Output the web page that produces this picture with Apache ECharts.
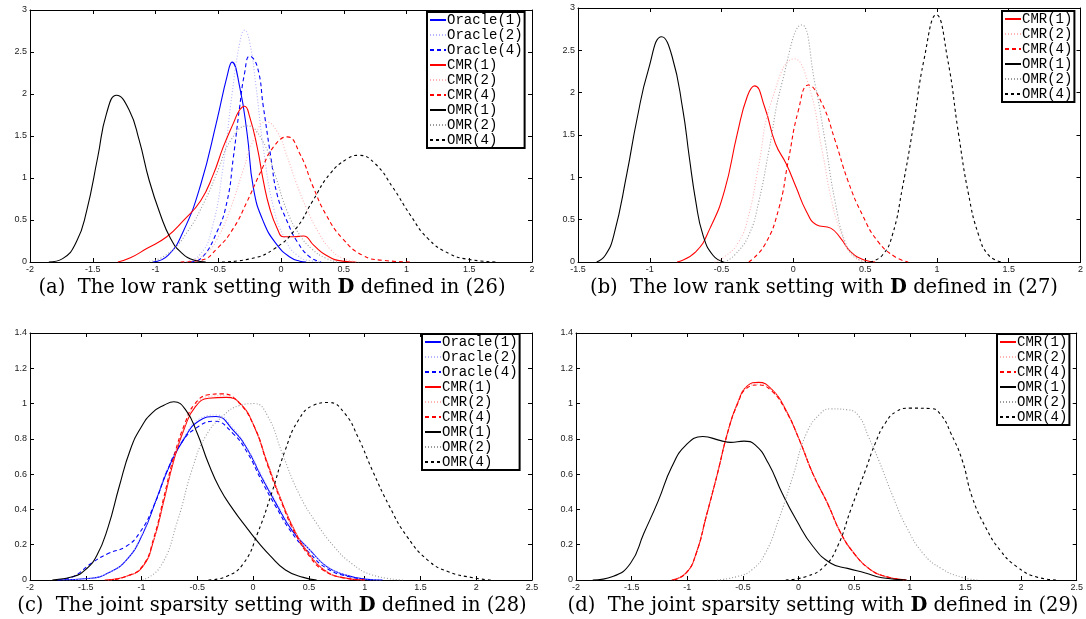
<!DOCTYPE html>
<html>
<head>
<meta charset="utf-8">
<script src="https://cdn.jsdelivr.net/npm/echarts@6/dist/echarts.min.js"></script>
<style>
  html, body { margin: 0; padding: 0; background: #fff; }
  #main { width: 1086px; height: 619px; }
</style>
</head>
<body>
<div id="main"></div>
<script>
// density curves, [x, y] pairs

// (a) low rank, D from (26)
var a_oracle1 = [[-1.02,0],[-0.9,0.08],[-0.78,0.36],[-0.64,0.92],[-0.51,1.69],[-0.43,2.21],[-0.39,2.38],[-0.33,2.09],[-0.27,1.53],[-0.22,0.88],[-0.14,0.48],[-0.03,0.2],[0.07,0.06],[0.15,0.01],[0.2,0]];
var a_oracle2 = [[-0.78,0],[-0.65,0.08],[-0.55,0.4],[-0.46,1.15],[-0.39,2.0],[-0.33,2.6],[-0.29,2.76],[-0.25,2.62],[-0.2,2.1],[-0.14,1.35],[-0.06,0.65],[0.03,0.28],[0.13,0.08],[0.25,0.01],[0.32,0]];
var a_oracle4 = [[-0.72,0],[-0.64,0.04],[-0.51,0.36],[-0.43,0.72],[-0.38,1.24],[-0.33,1.84],[-0.29,2.25],[-0.25,2.45],[-0.19,2.33],[-0.14,1.84],[-0.08,1.24],[-0.03,0.8],[0.05,0.48],[0.13,0.24],[0.23,0.06],[0.32,0]];
var a_cmr1 = [[-1.3,0],[-1.2,0.05],[-1.07,0.16],[-0.91,0.3],[-0.78,0.49],[-0.64,0.73],[-0.54,1.04],[-0.46,1.37],[-0.38,1.65],[-0.33,1.81],[-0.29,1.855],[-0.25,1.73],[-0.19,1.37],[-0.14,0.96],[-0.09,0.64],[-0.03,0.4],[0.02,0.3],[0.1,0.3],[0.18,0.31],[0.26,0.2],[0.36,0.08],[0.49,0.01],[0.6,0]];
var a_cmr2 = [[-0.75,0],[-0.6,0.1],[-0.5,0.3],[-0.4,0.65],[-0.3,1.1],[-0.22,1.45],[-0.12,1.67],[-0.03,1.55],[0.05,1.25],[0.12,0.95],[0.2,0.65],[0.3,0.35],[0.4,0.14],[0.5,0.04],[0.62,0]];
var a_cmr4 = [[-0.8,0],[-0.64,0.02],[-0.51,0.16],[-0.38,0.4],[-0.27,0.72],[-0.16,1.08],[-0.06,1.37],[0.05,1.49],[0.15,1.29],[0.26,0.88],[0.36,0.56],[0.49,0.28],[0.65,0.08],[0.81,0.02],[1.05,0]];
var a_omr1 = [[-1.85,0],[-1.74,0.04],[-1.63,0.24],[-1.55,0.6],[-1.46,1.25],[-1.39,1.77],[-1.31,1.985],[-1.21,1.81],[-1.13,1.45],[-1.05,0.97],[-0.96,0.56],[-0.88,0.28],[-0.8,0.12],[-0.69,0.02],[-0.6,0]];
var a_omr2 = [[-1.05,0],[-0.9,0.1],[-0.75,0.35],[-0.6,0.75],[-0.5,1.1],[-0.4,1.45],[-0.27,1.62],[-0.15,1.45],[-0.05,1.05],[0.05,0.6],[0.15,0.32],[0.25,0.15],[0.35,0.05],[0.45,0]];
var a_omr4 = [[-0.47,0],[-0.24,0.04],[-0.05,0.16],[0.12,0.4],[0.25,0.72],[0.39,1.05],[0.53,1.23],[0.62,1.27],[0.75,1.17],[0.89,0.89],[1.03,0.56],[1.17,0.28],[1.34,0.1],[1.5,0.03],[1.72,0]];

// (b) low rank, D from (27)
var b_cmr1 = [[-0.81,0],[-0.68,0.12],[-0.58,0.4],[-0.48,0.84],[-0.39,1.52],[-0.32,1.96],[-0.27,2.08],[-0.2,1.83],[-0.125,1.4],[-0.05,1.16],[0.02,0.88],[0.09,0.6],[0.16,0.44],[0.26,0.4],[0.33,0.28],[0.4,0.12],[0.5,0.02],[0.57,0]];
var b_cmr2 = [[-0.55,0],[-0.48,0.06],[-0.38,0.24],[-0.31,0.56],[-0.244,1.12],[-0.15,1.91],[0.007,2.4],[0.105,2.1],[0.2,1.32],[0.267,0.72],[0.337,0.32],[0.41,0.08],[0.5,0]];
var b_cmr4 = [[-0.31,0],[-0.2,0.2],[-0.1,0.64],[-0.035,1.2],[0.035,1.79],[0.105,2.09],[0.2,1.87],[0.29,1.44],[0.38,0.96],[0.48,0.56],[0.59,0.24],[0.71,0.06],[0.8,0]];
var b_omr1 = [[-1.37,0],[-1.31,0.08],[-1.25,0.32],[-1.16,1.04],[-1.09,1.68],[-1.01,2.27],[-0.917,2.66],[-0.845,2.43],[-0.77,1.8],[-0.725,1.24],[-0.68,0.72],[-0.63,0.32],[-0.56,0.08],[-0.485,0]];
var b_omr2 = [[-0.48,0],[-0.41,0.08],[-0.31,0.32],[-0.24,0.72],[-0.17,1.32],[-0.08,2.11],[0.058,2.8],[0.15,2.11],[0.22,1.44],[0.29,0.72],[0.36,0.24],[0.43,0.06],[0.5,0]];
var b_omr4 = [[0.535,0],[0.62,0.08],[0.69,0.32],[0.76,0.88],[0.835,1.6],[0.91,2.39],[0.996,2.92],[1.075,2.39],[1.15,1.52],[1.22,0.8],[1.29,0.32],[1.36,0.08],[1.45,0]];

// (c) joint sparsity, D from (28)
var c_oracle1 = [[-1.76,0],[-1.45,0.01],[-1.3,0.04],[-1.14,0.11],[-0.99,0.26],[-0.86,0.47],[-0.74,0.66],[-0.61,0.81],[-0.49,0.9],[-0.333,0.927],[-0.18,0.85],[-0.05,0.74],[0.07,0.59],[0.2,0.44],[0.35,0.28],[0.51,0.17],[0.66,0.076],[0.82,0.03],[1.0,0.005],[1.16,0]];
var c_oracle2 = [[-1.7,0],[-1.45,0.01],[-1.3,0.04],[-1.14,0.11],[-0.99,0.27],[-0.86,0.48],[-0.74,0.67],[-0.61,0.82],[-0.49,0.91],[-0.33,0.935],[-0.18,0.86],[-0.05,0.745],[0.07,0.6],[0.2,0.45],[0.35,0.29],[0.51,0.17],[0.66,0.08],[0.82,0.03],[1.0,0.005],[1.15,0]];
var c_oracle4 = [[-1.75,0],[-1.61,0.02],[-1.45,0.095],[-1.3,0.15],[-1.14,0.19],[-1.02,0.265],[-0.89,0.42],[-0.77,0.62],[-0.64,0.78],[-0.49,0.87],[-0.35,0.9],[-0.18,0.83],[-0.05,0.72],[0.07,0.57],[0.2,0.42],[0.35,0.265],[0.51,0.15],[0.66,0.066],[0.85,0.02],[1.07,0]];
var c_cmr1 = [[-1.33,0],[-1.14,0.02],[-0.99,0.076],[-0.89,0.227],[-0.8,0.45],[-0.71,0.68],[-0.61,0.87],[-0.52,0.98],[-0.4,1.03],[-0.24,1.035],[-0.115,1.0],[0.01,0.87],[0.13,0.66],[0.26,0.44],[0.38,0.27],[0.51,0.14],[0.63,0.06],[0.79,0.015],[1.0,0]];
var c_cmr2 = [[-1.3,0],[-1.14,0.02],[-0.99,0.08],[-0.89,0.23],[-0.8,0.46],[-0.71,0.69],[-0.61,0.88],[-0.52,0.99],[-0.4,1.04],[-0.26,1.045],[-0.12,1.0],[0.01,0.87],[0.13,0.66],[0.26,0.44],[0.38,0.27],[0.51,0.14],[0.63,0.06],[0.79,0.015],[1.0,0]];
var c_cmr4 = [[-1.3,0],[-1.14,0.02],[-0.99,0.08],[-0.89,0.24],[-0.8,0.47],[-0.71,0.7],[-0.61,0.89],[-0.52,1.0],[-0.4,1.05],[-0.28,1.055],[-0.15,1.02],[0.01,0.87],[0.13,0.65],[0.26,0.43],[0.38,0.26],[0.51,0.13],[0.63,0.055],[0.79,0.015],[1.0,0]];
var c_omr1 = [[-1.8,0],[-1.61,0.02],[-1.5,0.06],[-1.4,0.14],[-1.3,0.3],[-1.2,0.53],[-1.1,0.74],[-1.0,0.87],[-0.9,0.95],[-0.8,0.99],[-0.71,1.01],[-0.6,0.96],[-0.5,0.83],[-0.4,0.66],[-0.3,0.52],[-0.18,0.4],[-0.05,0.29],[0.05,0.21],[0.15,0.14],[0.29,0.057],[0.45,0.015],[0.57,0]];
var c_omr2 = [[-0.99,0],[-0.83,0.076],[-0.675,0.34],[-0.55,0.62],[-0.43,0.81],[-0.27,0.93],[-0.115,0.99],[0.01,1.0],[0.13,0.93],[0.26,0.72],[0.41,0.49],[0.57,0.32],[0.725,0.19],[0.88,0.095],[1.07,0.028],[1.35,0]];
var c_omr4 = [[-0.4,0],[-0.24,0.02],[-0.085,0.095],[0.04,0.265],[0.165,0.49],[0.29,0.74],[0.41,0.91],[0.54,0.99],[0.68,1.006],[0.82,0.945],[0.94,0.81],[1.07,0.62],[1.22,0.42],[1.38,0.246],[1.57,0.11],[1.75,0.047],[1.97,0.013],[2.13,0]];

// (d) joint sparsity, D from (29)
var d_cmr1 = [[-1.14,0],[-1.01,0.04],[-0.92,0.15],[-0.83,0.36],[-0.73,0.6],[-0.64,0.83],[-0.55,1.0],[-0.46,1.1],[-0.36,1.12],[-0.24,1.08],[-0.115,0.965],[0.01,0.79],[0.13,0.6],[0.26,0.435],[0.38,0.265],[0.5,0.15],[0.63,0.066],[0.78,0.02],[0.97,0]];
var d_cmr2 = [[-1.12,0],[-1.01,0.04],[-0.92,0.15],[-0.83,0.36],[-0.73,0.6],[-0.64,0.83],[-0.55,1.0],[-0.46,1.095],[-0.36,1.11],[-0.24,1.075],[-0.115,0.96],[0.01,0.79],[0.13,0.6],[0.26,0.435],[0.38,0.265],[0.5,0.15],[0.63,0.066],[0.78,0.02],[0.97,0]];
var d_cmr4 = [[-1.12,0],[-1.01,0.04],[-0.92,0.15],[-0.83,0.36],[-0.73,0.6],[-0.64,0.83],[-0.55,0.995],[-0.46,1.09],[-0.36,1.105],[-0.24,1.07],[-0.115,0.96],[0.01,0.79],[0.13,0.6],[0.26,0.435],[0.38,0.265],[0.5,0.15],[0.63,0.066],[0.78,0.02],[0.97,0]];
var d_omr1 = [[-1.85,0],[-1.67,0.02],[-1.51,0.095],[-1.39,0.265],[-1.26,0.45],[-1.14,0.64],[-1.01,0.766],[-0.86,0.813],[-0.7,0.79],[-0.61,0.78],[-0.49,0.787],[-0.39,0.766],[-0.27,0.66],[-0.146,0.49],[-0.02,0.34],[0.13,0.19],[0.29,0.095],[0.44,0.066],[0.6,0.04],[0.75,0.013],[0.97,0]];
var d_omr2 = [[-0.73,0],[-0.55,0.02],[-0.42,0.057],[-0.3,0.15],[-0.18,0.34],[-0.05,0.59],[0.07,0.83],[0.2,0.946],[0.29,0.97],[0.44,0.965],[0.54,0.93],[0.63,0.81],[0.72,0.68],[0.85,0.47],[0.97,0.3],[1.12,0.15],[1.28,0.066],[1.47,0.015],[1.62,0]];
var d_omr4 = [[-0.115,0],[0.07,0.02],[0.23,0.076],[0.35,0.19],[0.47,0.4],[0.6,0.62],[0.69,0.776],[0.78,0.89],[0.88,0.955],[1.0,0.974],[1.19,0.972],[1.28,0.936],[1.37,0.83],[1.47,0.68],[1.56,0.47],[1.68,0.3],[1.81,0.17],[1.96,0.076],[2.15,0.015],[2.33,0]];

// axis ranges per panel: [xmin, xmax, xstep, ymax, ystep]
var axisA = [-2, 2, 0.5, 3, 0.5];
var axisB = [-1.5, 2, 0.5, 3, 0.5];
var axisC = [-2, 2.5, 0.5, 1.4, 0.2];
var axisD = [-2, 2.5, 0.5, 1.4, 0.2];

var captions = [
  '(a)  The low rank setting with {b|D} defined in (26)',
  '(b)  The low rank setting with {b|D} defined in (27)',
  '(c)  The joint sparsity setting with {b|D} defined in (28)',
  '(d)  The joint sparsity setting with {b|D} defined in (29)'
];

var namesFull = ['Oracle(1)','Oracle(2)','Oracle(4)','CMR(1)','CMR(2)','CMR(4)','OMR(1)','OMR(2)','OMR(4)'];
var namesShort = ['CMR(1)','CMR(2)','CMR(4)','OMR(1)','OMR(2)','OMR(4)'];

var panels = [
  { axis: axisA, grid: {left: 30, top: 10, width: 502, height: 252}, legend: {left: 427, top: 12}, cap: [272, 288],
    curves: [a_oracle1, a_oracle2, a_oracle4, a_cmr1, a_cmr2, a_cmr4, a_omr1, a_omr2, a_omr4], names: namesFull },
  { axis: axisB, grid: {left: 578, top: 8, width: 505, height: 254}, legend: {left: 1002, top: 11}, cap: [824, 288],
    curves: [b_cmr1, b_cmr2, b_cmr4, b_omr1, b_omr2, b_omr4], names: namesShort },
  { axis: axisC, grid: {left: 30, top: 333, width: 502, height: 247}, legend: {left: 422, top: 334}, cap: [272, 606],
    curves: [c_oracle1, c_oracle2, c_oracle4, c_cmr1, c_cmr2, c_cmr4, c_omr1, c_omr2, c_omr4], names: namesFull },
  { axis: axisD, grid: {left: 576, top: 333, width: 507, height: 247}, legend: {left: 997, top: 334}, cap: [823, 606],
    curves: [d_cmr1, d_cmr2, d_cmr4, d_omr1, d_omr2, d_omr4], names: namesShort }
];

var styles = {
  'Oracle(1)': ['#0000ff', 'solid'],
  'Oracle(2)': ['#b4b4ff', [1, 2]],
  'Oracle(4)': ['#0000ff', [4, 3]],
  'CMR(1)': ['#ff0000', 'solid'],
  'CMR(2)': ['#ffb4b4', [1, 2]],
  'CMR(4)': ['#ff0000', [4, 3]],
  'OMR(1)': ['#000000', 'solid'],
  'OMR(2)': ['#9a9a9a', [1, 2]],
  'OMR(4)': ['#000000', [3, 3]]
};

var chart = echarts.init(document.getElementById('main'), null, {renderer: 'canvas'});

var grids = [], xAxes = [], yAxes = [], series = [], legends = [], graphics = [];

function tickAxis(extra) {
  var ax = {
    type: 'value',
    axisLine: {show: true, onZero: false, lineStyle: {color: '#000', width: 1}},
    axisTick: {show: true, inside: true, length: 4, lineStyle: {color: '#000', width: 1}},
    splitLine: {show: false},
    axisLabel: {show: false}
  };
  for (var k in extra) ax[k] = extra[k];
  return ax;
}

panels.forEach(function (p, i) {
  grids.push(p.grid);
  var ax = p.axis;
  var lab = {show: true, fontSize: 9, color: '#222', fontFamily: 'Liberation Sans', margin: 3, showMinLabel: true, showMaxLabel: true};
  xAxes.push(tickAxis({gridIndex: i, position: 'bottom', min: ax[0], max: ax[1], interval: ax[2], axisLabel: lab}));
  xAxes.push(tickAxis({gridIndex: i, position: 'top', min: ax[0], max: ax[1], interval: ax[2]}));
  yAxes.push(tickAxis({gridIndex: i, position: 'left', min: 0, max: ax[3], interval: ax[4], axisLabel: lab}));
  yAxes.push(tickAxis({gridIndex: i, position: 'right', min: 0, max: ax[3], interval: ax[4]}));

  p.curves.forEach(function (data, j) {
    var name = p.names[j];
    var st = styles[name];
    series.push({
      name: name,
      type: 'line',
      xAxisIndex: i * 2,
      yAxisIndex: i * 2,
      data: data,
      symbol: 'none',
      smooth: 0.5,
      clip: true,
      silent: true,
      z: 2,
      lineStyle: {color: st[0], width: 1.1, type: st[1]},
      itemStyle: {color: st[0]}
    });
  });

  legends.push({
    data: p.names,
    orient: 'vertical',
    left: p.legend.left,
    top: p.legend.top,
    itemWidth: 16,
    itemHeight: 14,
    itemGap: 1,
    padding: [1, 2, 1, 2],
    borderColor: '#000',
    borderWidth: 2,
    backgroundColor: '#fff',
    selectedMode: false,
    itemStyle: {opacity: 0},
    textStyle: {fontFamily: 'Liberation Mono', fontSize: 14, color: '#000', padding: [0, 0, 0, -4]}
  });

  graphics.push({
    type: 'text',
    x: p.cap[0],
    y: p.cap[1],
    style: {
      text: captions[i],
      fontFamily: 'DejaVu Serif',
      fontSize: 19.5,
      fill: '#000',
      align: 'center',
      verticalAlign: 'middle',
      rich: {b: {fontWeight: 'bold', fontFamily: 'DejaVu Serif', fontSize: 19.5}}
    }
  });
});

chart.setOption({
  animation: false,
  backgroundColor: '#fff',
  grid: grids,
  xAxis: xAxes,
  yAxis: yAxes,
  legend: legends,
  series: series,
  graphic: graphics
});
</script>
</body>
</html>
